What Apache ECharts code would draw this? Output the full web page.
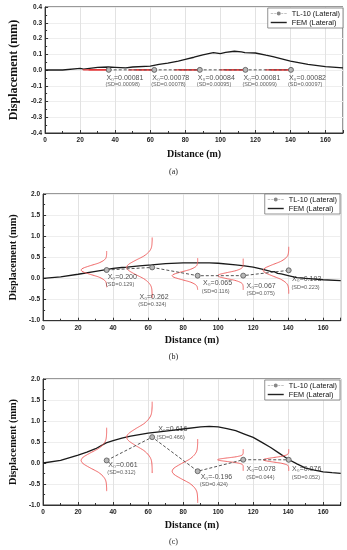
<!DOCTYPE html>
<html><head><meta charset="utf-8">
<script src="https://cdn.jsdelivr.net/npm/echarts/dist/echarts.min.js"></script>
<style>html,body{margin:0;padding:0;background:#fff}#c{width:347px;height:550px}</style>
</head><body><div id="c"></div>
<script>
// ---- data ----
const gaugeX = [36.3, 62.3, 88.3, 114.3, 140.3];

const meanA = [0.00081, 0.00078, 0.00084, 0.00081, 0.00082];
const sdA   = [0.00098, 0.00078, 0.00095, 0.00099, 0.00097];
const rangeA = [[-0.004,0.004],[-0.003,0.003],[-0.004,0.004],[-0.004,0.004],[-0.004,0.004]];
const femAX = [0,10,20,22,30,36,40,46,50,60,65,70,76,80,85,90,96,100,103,108,112,114,120,126,130,140,150,160,170];
const femAY = [0,0,0.01,0.005,0.017,0.019,0.017,0.013,0.019,0.025,0.036,0.043,0.057,0.068,0.081,0.096,0.11,0.104,0.112,0.119,0.115,0.11,0.108,0.094,0.085,0.057,0.036,0.021,0.013];

const meanB = [0.200, 0.262, 0.065, 0.067, 0.193];
const sdB   = [0.129, 0.324, 0.116, 0.075, 0.223];
const rangeB = [[-0.22,0.65],[-0.47,0.97],[-0.28,0.48],[-0.28,0.47],[-0.36,0.75]];
const femBX = [0,10,20,30,36,40,45,48,55,62,70,80,90,95,100,110,115,120,125,130,132,134,136,140,145,150,160,170];
const femBY = [0,0.04,0.1,0.17,0.21,0.24,0.26,0.27,0.3,0.32,0.35,0.37,0.37,0.37,0.36,0.32,0.3,0.27,0.22,0.17,0.16,0.12,0.11,0.07,0.02,0,-0.03,-0.05];

const meanC = [0.061, 0.616, -0.196, 0.078, 0.076];
const sdC   = [0.312, 0.466, 0.424, 0.044, 0.052];
const rangeC = [[-0.67,0.84],[-0.25,1.46],[-0.95,0.57],[-0.19,0.33],[-0.19,0.33]];
const femCX = [0,10,20,25,30,36,40,45,50,60,70,80,90,95,100,105,110,115,120,125,130,135,140,145,150,155,160,165,170];
const femCY = [0,0.06,0.19,0.26,0.34,0.48,0.53,0.59,0.64,0.71,0.76,0.81,0.86,0.87,0.86,0.82,0.77,0.69,0.61,0.49,0.37,0.23,0.09,-0.02,-0.12,-0.17,-0.21,-0.23,-0.245];

const xTicksMax = 170;
// bell shape profile (relative width at z = 0, 0.25, 0.5 ... 4)
const PROFILE = [1,0.97,0.88,0.75,0.61,0.46,0.32,0.22,0.14,0.08,0.04,0.02,0.01,0.005,0,0,0];

// ---- layout / style ----
const BELL_W = 14.6;
const grids = [
  {left:33.5, top:7, width:309.5, height:126},
  {left:34.7, top:194, width:306, height:126.7},
  {left:34.7, top:379, width:306, height:126}
];
const offA = {x:[[-2.3,7.7],[-2,7.7],[-2,7.7],[-2,7.7],[-2,7.7]], s:[[-3.3,14.3],[-3,14.3],[-3,14.3],[-3,14.3],[-3,14.3]]};
const offB = {x:[[1,7],[-12.7,30],[5.3,7.6],[3.3,10.4],[3.4,9]], s:[[-0.7,14],[-14,37.5],[4,15.3],[3.3,18],[2.7,17.4]]};
const offC = {x:[[1.7,5],[6,-8],[3,5.5],[3.3,9.3],[3.4,9.5]], s:[[0.7,12.3],[4.3,0],[2,13],[3,17.6],[3,18]]};

function prof(z){ const i = Math.round(Math.abs(z)/0.25); return i < PROFILE.length ? PROFILE[i] : 0; }
function bell(xi, mu, sdv, lo, hi){
  const vs = Math.min(sdv, (hi-lo)/8);
  const st = 0.25*vs;
  const pts = [[xi - BELL_W*prof((hi-mu)/vs), hi]];
  const kHi = Math.floor((hi-mu)/st - 1e-9), kLo = Math.ceil((lo-mu)/st + 1e-9);
  for (let k = kHi; k >= kLo; k--) pts.push([xi - BELL_W*prof(k*0.25), mu + k*st]);
  pts.push([xi - BELL_W*prof((lo-mu)/vs), lo]);
  return pts;
}
const zip = (a,b) => a.map((v,i)=>[v,b[i]]);

const panels = [
  {mean:meanA, sd:sdA, range:rangeA, fx:femAX, fy:femAY, off:offA, dec:5, min:-0.4, max:0.4, intv:0.1, yFont:12, yGap:22, xGap:16, red:'#e8393a', redW:1.3},
  {mean:meanB, sd:sdB, range:rangeB, fx:femBX, fy:femBY, off:offB, dec:3, min:-1, max:2, intv:0.5, yFont:10.3, yGap:21, xGap:15, red:'#f06464', redW:1},
  {mean:meanC, sd:sdC, range:rangeC, fx:femCX, fy:femCY, off:offC, dec:3, min:-1, max:2, intv:0.5, yFont:10.3, yGap:21, xGap:15, red:'#f06464', redW:1}
];

const axisCol = '#333';
const xAxis = [], yAxis = [], series = [];
panels.forEach((p, gi) => {
  xAxis.push({type:'value', gridIndex:gi, min:0, max:xTicksMax, interval:20,
    name:'Distance (m)', nameLocation:'middle', nameGap:p.xGap,
    nameTextStyle:{fontFamily:'Liberation Serif', fontWeight:'bold', fontSize:10, color:'#111'},
    axisLine:{show:true, onZero:false, lineStyle:{color:axisCol, width:1}},
    axisTick:{show:true, inside:true, length:3, lineStyle:{color:axisCol}},
    minorTick:{show:true, splitNumber:2, length:2, lineStyle:{color:axisCol}},
    splitLine:{show:true, lineStyle:{color:'#e2e2e2', width:1}},
    axisLabel:{fontSize:6.5, fontWeight:'bold', fontFamily:'Liberation Sans', color:'#222', margin:4, showMaxLabel:false}
  });
  yAxis.push({type:'value', gridIndex:gi, min:p.min, max:p.max, interval:p.intv,
    name:'Displacement (mm)', nameLocation:'middle', nameGap:p.yGap, nameRotate:90,
    nameTextStyle:{fontFamily:'Liberation Serif', fontWeight:'bold', fontSize:p.yFont, color:'#111'},
    axisLine:{show:true, onZero:false, lineStyle:{color:axisCol, width:1}},
    axisTick:{show:true, inside:true, length:3, lineStyle:{color:axisCol}},
    minorTick:{show:true, splitNumber:2, length:2, lineStyle:{color:axisCol}},
    splitLine:{show:true, lineStyle:{color:'#eeeeee', width:1}},
    axisLabel:{fontSize:6.5, fontWeight:'bold', fontFamily:'Liberation Sans', color:'#222', margin:3,
      formatter: v => v.toFixed(1)}
  });
  series.push({type:'line', name:'FEM (Lateral)', xAxisIndex:gi, yAxisIndex:gi, data:zip(p.fx, p.fy),
    symbol:'none', lineStyle:{color:'#1a1a1a', width:1.3}, itemStyle:{color:'#1a1a1a'}, z:3, silent:true});
  gaugeX.forEach((xi, i) => {
    series.push({type:'line', name:'bell'+gi+'_'+i, xAxisIndex:gi, yAxisIndex:gi,
      data:bell(xi, p.mean[i], p.sd[i], p.range[i][0], p.range[i][1]),
      symbol:'none', smooth:0.15, lineStyle:{color:p.red, width:p.redW}, itemStyle:{color:p.red}, z:4, silent:true});
  });
  series.push({type:'line', name:'TL-10 (Lateral)', xAxisIndex:gi, yAxisIndex:gi, data:zip(gaugeX, p.mean),
    symbol:'circle', symbolSize:5, lineStyle:{type:[3,2], color:'#555', width:1},
    itemStyle:{color:'#b8b8b8', borderColor:'#555', borderWidth:0.8}, z:5, silent:true});
  const pts = zip(gaugeX, p.mean);
  series.push({type:'scatter', name:'lblX'+gi, xAxisIndex:gi, yAxisIndex:gi, symbolSize:0.1, silent:true,
    itemStyle:{color:'rgba(0,0,0,0)'}, z:6,
    data: pts.map((d,i)=>({value:d, label:{offset:p.off.x[i]}})),
    label:{show:true, position:'inside', align:'left', verticalAlign:'middle', fontSize:7, fontFamily:'Liberation Sans', color:'#222',
      formatter: o => 'X\u2080=' + p.mean[o.dataIndex].toFixed(p.dec)}
  });
  series.push({type:'scatter', name:'lblS'+gi, xAxisIndex:gi, yAxisIndex:gi, symbolSize:0.1, silent:true,
    itemStyle:{color:'rgba(0,0,0,0)'}, z:6,
    data: pts.map((d,i)=>({value:d, label:{offset:p.off.s[i]}})),
    label:{show:true, position:'inside', align:'left', verticalAlign:'middle', fontSize:5.5, fontFamily:'Liberation Sans', color:'#333',
      formatter: o => '(SD=' + p.sd[o.dataIndex].toFixed(p.dec) + ')'}
  });
});

const TL_ICON = 'path://M0,9.7 L2.5,9.7 L2.5,10.3 L0,10.3 Z M3.5,9.7 L5.5,9.7 L5.5,10.3 L3.5,10.3 Z M10.5,9.7 L12.5,9.7 L12.5,10.3 L10.5,10.3 Z M13.5,9.7 L16,9.7 L16,10.3 L13.5,10.3 Z M6,10 A2,2 0 1 0 10,10 A2,2 0 1 0 6,10 Z';
const FEM_ICON = 'path://M0,9.3 L16,9.3 L16,10.7 L0,10.7 Z';
function legend(top, right){
  return {top, right, orient:'vertical', itemGap:2, itemWidth:16, itemHeight:5, padding:[2,3,2,3],
    borderColor:'#777', borderWidth:0.8, backgroundColor:'#fff', borderRadius:0, selectedMode:false,
    textStyle:{fontSize:7.3, fontFamily:'Liberation Sans', color:'#111'},
    data:[
      {name:'TL-10 (Lateral)', icon:TL_ICON, itemStyle:{color:'#888', borderWidth:0}},
      {name:'FEM (Lateral)', icon:FEM_ICON, itemStyle:{color:'#222', borderWidth:0}}
    ]};
}

const chart = echarts.init(document.getElementById('c'), null, {renderer:'canvas'});
chart.setOption({
  animation:false,
  backgroundColor:'#fff',
  grid: grids.map(g => Object.assign({show:true, borderColor:axisCol, borderWidth:1, backgroundColor:'rgba(0,0,0,0)', containLabel:false}, g)),
  xAxis, yAxis, series,
  legend:[legend(8,4), legend(194,7), legend(380,7)],
  graphic:[
    {type:'text', left:'center', top:168, style:{text:'(a)', font:'8px "Liberation Serif"', fill:'#222'}},
    {type:'text', left:'center', top:353, style:{text:'(b)', font:'8px "Liberation Serif"', fill:'#222'}},
    {type:'text', left:'center', top:538, style:{text:'(c)', font:'8px "Liberation Serif"', fill:'#222'}}
  ]
});
</script>
</body></html>
